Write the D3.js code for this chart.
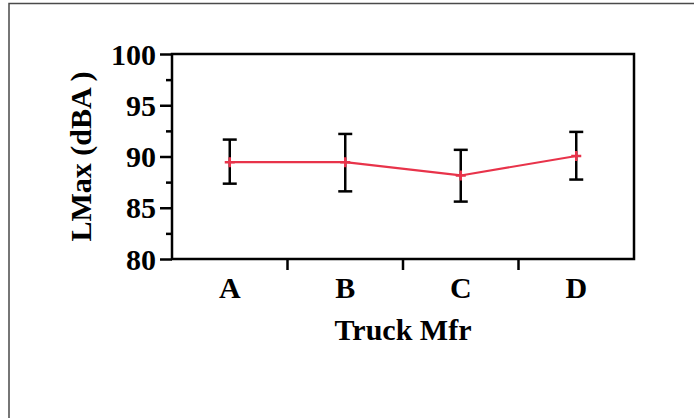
<!DOCTYPE html>
<html>
<head>
<meta charset="utf-8">
<script src="https://cdn.jsdelivr.net/npm/d3@7"></script>
<style>
  html, body { margin: 0; padding: 0; background: #fff; }
  svg { display: block; }
  text { font-family: "Liberation Serif", "Times New Roman", serif; font-weight: bold; fill: #000; }
</style>
</head>
<body>
<svg id="chart" width="694" height="418"></svg>
<script>
// Data
// ----
const categories = ["A", "B", "C", "D"];
const means = [89.45, 89.45, 88.15, 90.05];
const upper = [91.65, 92.2, 90.65, 92.4];
const lower = [87.35, 86.6, 85.6, 87.75];
const majorTicks = [80, 85, 90, 95, 100];
const minorTicks = [82.5, 87.5, 92.5, 97.5];

const W = 694, H = 418;
const margin = { left: 172, right: 60, top: 54, bottom: 159 };
const plotW = W - margin.left - margin.right;
const plotH = H - margin.top - margin.bottom;

const svg = d3.select("#chart");

// outer frame (only left and top edges fall inside the picture)
svg.append("rect")
  .attr("x", 9).attr("y", 3.5)
  .attr("width", W).attr("height", H)
  .attr("fill", "none")
  .attr("stroke", "#4a4a4a")
  .attr("stroke-width", 1.5);

const x = d3.scaleBand()
  .domain(categories)
  .range([margin.left, margin.left + plotW])
  .paddingInner(0).paddingOuter(0);

const y = d3.scaleLinear()
  .domain([80, 100])
  .range([margin.top + plotH, margin.top]);

// y axis, major ticks with labels
const yAxis = svg.append("g")
  .attr("transform", `translate(${margin.left},0)`)
  .call(d3.axisLeft(y).tickValues(majorTicks).tickSize(12).tickPadding(4).tickFormat(d3.format("d")));
yAxis.select(".domain").remove();
yAxis.selectAll(".tick line").attr("stroke", "#000").attr("stroke-width", 2.5);
yAxis.selectAll(".tick text")
  .style("font-size", "30px")
  .attr("dy", "0.34em");

// y axis, minor ticks
svg.append("g")
  .attr("transform", `translate(${margin.left},0)`)
  .call(d3.axisLeft(y).tickValues(minorTicks).tickSize(6).tickFormat(""))
  .call(g => g.select(".domain").remove())
  .selectAll(".tick line").attr("stroke", "#000").attr("stroke-width", 2.5);

// x axis: ticks at the band boundaries, labels at the band centres
const xg = svg.append("g")
  .attr("transform", `translate(0,${margin.top + plotH})`);
xg.selectAll("line.sep")
  .data(categories.slice(1))
  .join("line")
  .attr("class", "sep")
  .attr("x1", d => x(d)).attr("x2", d => x(d))
  .attr("y1", 0).attr("y2", 11)
  .attr("stroke", "#000").attr("stroke-width", 2.5);
xg.selectAll("text")
  .data(categories)
  .join("text")
  .attr("x", d => x(d) + x.bandwidth() / 2)
  .attr("y", 39)
  .attr("text-anchor", "middle")
  .style("font-size", "30px")
  .text(d => d);

// plot box
svg.append("rect")
  .attr("x", margin.left).attr("y", margin.top)
  .attr("width", plotW).attr("height", plotH)
  .attr("fill", "none")
  .attr("stroke", "#000")
  .attr("stroke-width", 2.5);

// axis titles
svg.append("text")
  .attr("x", margin.left + plotW / 2)
  .attr("y", 340)
  .attr("text-anchor", "middle")
  .style("font-size", "30px")
  .text("Truck Mfr");

svg.append("text")
  .attr("transform", `translate(91,${margin.top + plotH / 2}) rotate(-90)`)
  .attr("text-anchor", "middle")
  .style("font-size", "30px")
  .text("LMax (dBA )");

// error bars
const cx = (d, i) => x(categories[i]) + x.bandwidth() / 2;
const rows = categories.map((c, i) => ({ c, i, m: means[i], hi: upper[i], lo: lower[i] }));
const capHalf = 7;
const eb = svg.append("g").attr("stroke", "#000").attr("stroke-width", 2.5);
eb.selectAll("line.v").data(rows).join("line").attr("class", "v")
  .attr("x1", d => cx(d, d.i)).attr("x2", d => cx(d, d.i))
  .attr("y1", d => y(d.hi)).attr("y2", d => y(d.lo));
eb.selectAll("line.t").data(rows).join("line").attr("class", "t")
  .attr("x1", d => cx(d, d.i) - capHalf).attr("x2", d => cx(d, d.i) + capHalf)
  .attr("y1", d => y(d.hi)).attr("y2", d => y(d.hi));
eb.selectAll("line.b").data(rows).join("line").attr("class", "b")
  .attr("x1", d => cx(d, d.i) - capHalf).attr("x2", d => cx(d, d.i) + capHalf)
  .attr("y1", d => y(d.lo)).attr("y2", d => y(d.lo));

// mean line
const red = "#e8334a";
const line = d3.line()
  .x(d => cx(d, d.i))
  .y(d => y(d.m));
svg.append("path")
  .datum(rows)
  .attr("d", line)
  .attr("fill", "none")
  .attr("stroke", red)
  .attr("stroke-width", 2.2);

// plus markers
svg.append("g")
  .selectAll("path")
  .data(rows)
  .join("path")
  .attr("d", d3.symbol(d3.symbolCross).size(1))
  .attr("d", d => {
    const px = cx(d, d.i), py = y(d.m), r = 5;
    return `M${px - r},${py}H${px + r}M${px},${py - r}V${py + r}`;
  })
  .attr("stroke", red)
  .attr("stroke-width", 2.5)
  .attr("fill", "none");
</script>
</body>
</html>
